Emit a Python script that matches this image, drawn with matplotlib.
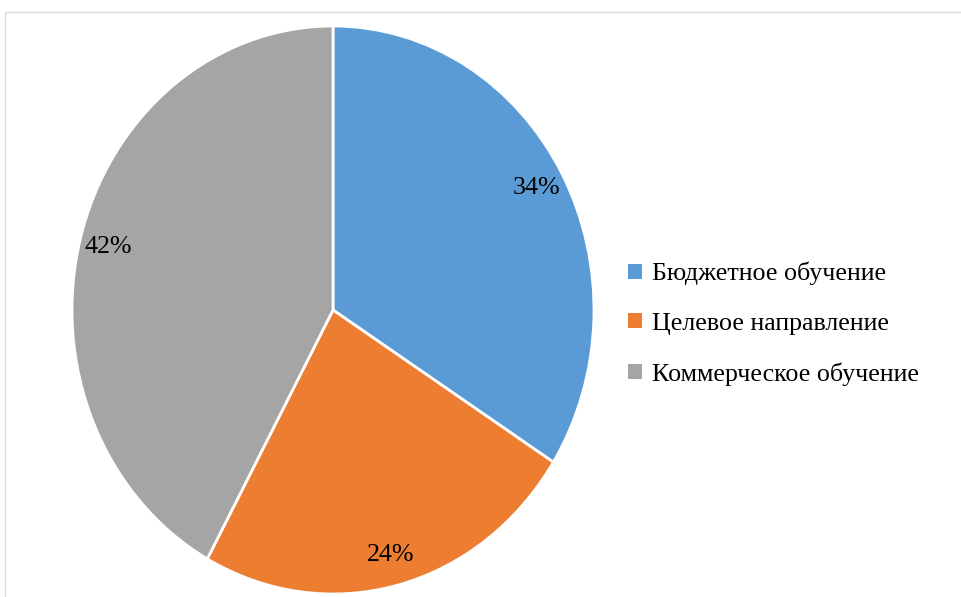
import matplotlib.pyplot as plt
from matplotlib.patches import Rectangle, Patch

plt.rcParams['font.family'] = ['Liberation Serif', 'DejaVu Serif']

# Data
categories = ['Бюджетное обучение', 'Целевое направление', 'Коммерческое обучение']
shares = [34, 24, 42]
colors = ['#5B9BD5', '#ED7D31', '#A5A5A5']

W, H = 962, 597
fig = plt.figure(figsize=(W / 100, H / 100), dpi=100)

# chart frame (cropped on right and bottom)
fig.patches.append(Rectangle((4.5 / W, -0.1), 1.2, (H - 11.5) / H + 0.1,
                             transform=fig.transFigure, fill=False,
                             edgecolor='#D9D9D9', linewidth=1))

# pie is slightly stretched vertically in the reference
ax = fig.add_axes([72 / W, 3 / H, 522 / W, 568 / H])
wedges, texts, autotexts = ax.pie(
    shares, colors=colors, startangle=90, counterclock=False,
    autopct='%1.0f%%', pctdistance=0.89,
    wedgeprops=dict(edgecolor='white', linewidth=2),
    textprops=dict(fontsize=18.7, color='black'))
ax.set_aspect('auto')
ax.set_xlim(-1, 1)
ax.set_ylim(-1, 1)

handles = [Patch(facecolor=c, edgecolor='none') for c in colors]
fig.legend(handles, categories, loc='center left',
           bbox_to_anchor=(605 / W, 1 - 324 / H), frameon=False,
           fontsize=18.7, handlelength=0.52, handleheight=0.52,
           handletextpad=0.4, labelspacing=1.06)

fig.savefig('out.png', dpi=100)
